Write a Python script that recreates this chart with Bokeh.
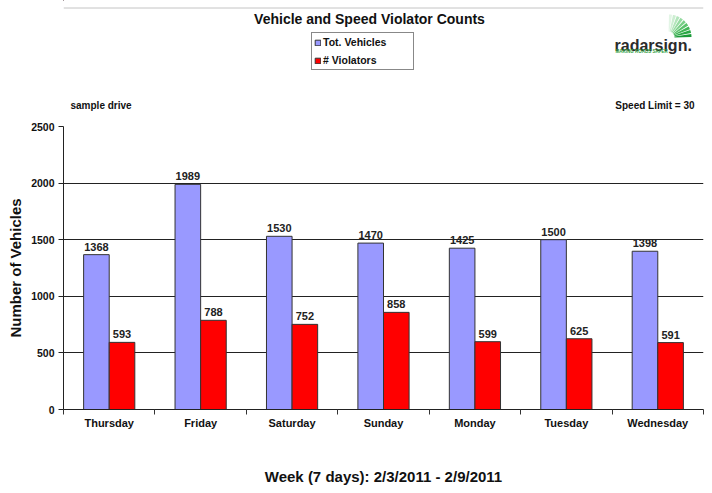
import numpy as np
from bokeh.plotting import figure
from bokeh.layouts import column
from bokeh.models import (Range1d, FixedTicker, Legend, LegendItem, Label, ColumnDataSource)
from bokeh.core.properties import value
from bokeh.embed import file_html
from bokeh.resources import INLINE

days = ["Thursday", "Friday", "Saturday", "Sunday", "Monday", "Tuesday", "Wednesday"]
tot_vehicles = [1368, 1989, 1530, 1470, 1425, 1500, 1398]
violators = [593, 788, 752, 858, 599, 625, 591]
y_ticks = [0, 500, 1000, 1500, 2000, 2500]

FONT = "Liberation Sans"
BLUE = "#9999FF"
RED = "#FF0000"

OX, OY = 0, 0     # page position of content (page renders without body margin)
W = 708
HH = 118          # header height (page y 0..118)
MH = 372          # main height (page y 118..490)
FL, FR, FT, FB = 63, 703, 126, 409   # frame of main chart in page pixels
XMAX, YMAX = len(days), 2500

# ---------------- header figure (data coords = page pixels) ----------------
h = figure(width=W, height=HH, output_backend="svg", toolbar_location=None,
           x_range=Range1d(FL, FR), y_range=Range1d(OY + HH, OY),
           x_axis_location=None, y_axis_location=None,
           min_border_left=FL - OX, min_border_right=OX + W - FR,
           min_border_top=0, min_border_bottom=0)
h.grid.visible = False
h.outline_line_color = None
h.background_fill_color = "white"
h.border_fill_color = "white"

def hlabel(text, px, py, size, align="left", baseline="middle", color="#111111", style="bold"):
    h.add_layout(Label(x=px, y=py, text=text, text_font=FONT,
                       text_font_style=style, text_font_size=size, text_align=align,
                       text_baseline=baseline, text_color=color))

hlabel("Vehicle and Speed Violator Counts", 369, 18, "14px", align="center")
hlabel("sample drive", 70, 105, "10px")
hlabel("Speed Limit = 30", 694, 105, "10px", align="right")
hlabel("radarsign.", 614, 45, "16px", baseline="alphabetic", color="#2b2b2b")
hlabel("MAKING ROADS SAFER", 615, 51, "4.5px", color="#2e9e3e")

# logo fan (radial wedges, light to dark green)
cx, cy = 668, 37
n = 9
edges = np.linspace(np.pi / 2, 0, n + 1)
fan_colors = ["#e3f5e6", "#cdeed2", "#b3e5bb", "#97dba2", "#79cf87",
              "#5bc26c", "#41b556", "#2aa845", "#1a9a38"]
pxs, pys = [], []
for i in range(n):
    a = np.linspace(edges[i] - 0.02, edges[i + 1] + 0.02, 6)
    r0, r1_ = 6, 23
    pxs.append(list(cx + r1_ * np.cos(a)) + list(cx + r0 * np.cos(a[::-1])))
    pys.append(list(cy - r1_ * np.sin(a)) + list(cy - r0 * np.sin(a[::-1])))
h.patches(xs=pxs, ys=pys, fill_color=fan_colors, line_color=None)

# page frame line (light grey) inside the header
h.segment(x0=[FL], y0=[7.5], x1=[FR], y1=[7.5], line_color="#c4c4c4", line_width=1)

# renderers for the legend (kept out of view)
lr1 = h.vbar(x=[0], top=[-50], bottom=[-60], width=1, fill_color=BLUE, line_color="#333333")
lr2 = h.vbar(x=[0], top=[-50], bottom=[-60], width=1, fill_color=RED, line_color="#333333")
legend = Legend(items=[LegendItem(label="Tot. Vehicles", renderers=[lr1]),
                       LegendItem(label="# Violators", renderers=[lr2])],
                location=(311 - FL, OY + HH - 70), orientation="vertical",
                glyph_width=7, glyph_height=7, label_height=14, label_width=88,
                label_standoff=2, padding=2, spacing=4, margin=0,
                label_text_font=FONT, label_text_font_style="bold",
                label_text_font_size="10.5px", label_text_color="#111111",
                border_line_color="#111111", border_line_width=1,
                background_fill_color="white", background_fill_alpha=1)
h.add_layout(legend, "center")

# ---------------- main chart ----------------
p = figure(width=W, height=MH, output_backend="svg", toolbar_location=None,
           x_range=Range1d(0, XMAX), y_range=Range1d(0, YMAX),
           min_border_left=FL - OX, min_border_right=OX + W - FR,
           min_border_top=FT - (OY + HH), min_border_bottom=OY + HH + MH - FB)
p.outline_line_color = None
p.background_fill_color = "white"
p.border_fill_color = "white"

centers = np.arange(len(days)) + 0.5
src = ColumnDataSource(dict(x=centers, day=days, tot=tot_vehicles, vio=violators,
                            xb=centers - 0.14, xr=centers + 0.14,
                            tl=[str(v) for v in tot_vehicles], vl=[str(v) for v in violators]))

r1 = p.vbar(x="xb", top="tot", width=0.28, source=src, fill_color=BLUE,
            line_color="#333333", line_width=1)
r2 = p.vbar(x="xr", top="vio", width=0.28, source=src, fill_color=RED,
            line_color="#333333", line_width=1)

for xc, yc, tc in (("xb", "tot", "tl"), ("xr", "vio", "vl")):
    p.text(x=xc, y=yc, text=tc, source=src, text_align="center", text_baseline="bottom",
           y_offset=-4, text_font=value(FONT), text_font_style="bold",
           text_font_size="11px", text_color="#222222")

p.xaxis.ticker = FixedTicker(ticks=list(centers), minor_ticks=list(range(XMAX + 1)))
p.xaxis.major_label_overrides = {float(c): d for c, d in zip(centers, days)}
p.xaxis.major_tick_line_color = None
p.xaxis.major_tick_out = 5
p.xaxis.minor_tick_out = 5
p.xaxis.minor_tick_in = 0
p.xaxis.minor_tick_line_color = "#333333"
p.xaxis.major_label_standoff = 2
p.xaxis.major_label_text_font_size = "11px"
p.xaxis.axis_label = "Week (7 days): 2/3/2011 - 2/9/2011"
p.xaxis.axis_label_standoff = 36

p.yaxis.ticker = FixedTicker(ticks=y_ticks)
p.yaxis.minor_tick_line_color = None
p.yaxis.major_tick_out = 5
p.yaxis.major_tick_in = 0
p.yaxis.major_tick_line_color = "#222222"
p.yaxis.major_label_standoff = 4
p.yaxis.major_label_text_font_size = "10.5px"
p.yaxis.axis_label = "Number of Vehicles"
p.yaxis.axis_label_standoff = 4

for ax in (p.xaxis, p.yaxis):
    ax.axis_line_color = "#222222"
    ax.major_label_text_font = FONT
    ax.major_label_text_font_style = "bold"
    ax.major_label_text_color = "#111111"
    ax.axis_label_text_font = FONT
    ax.axis_label_text_font_style = "bold"
    ax.axis_label_text_color = "#111111"
    ax.axis_label_text_font_size = "15px"

p.xgrid.visible = False
p.ygrid.ticker = FixedTicker(ticks=[500, 1000, 1500, 2000])
p.ygrid.grid_line_color = "#222222"
p.ygrid.grid_line_width = 1

layout = column(h, p, spacing=0)
open("out.html", "w").write(file_html(layout, INLINE))
